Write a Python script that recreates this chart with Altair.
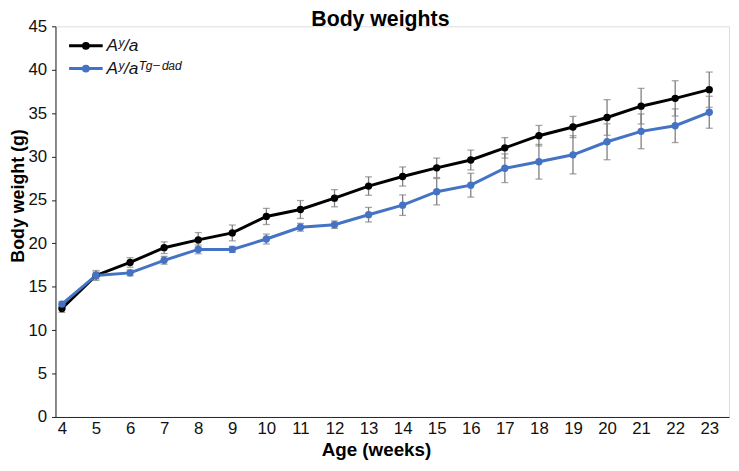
import altair as alt
import pandas as pd

weeks = list(range(4, 24))
series_names = ["Aʸ/a", "Aʸ/aᵀᵍ⁻ᵈᵃᵈ"]
series_colors = ["#000000", "#4472C4"]

ay_a_mean = [12.5, 16.3, 17.8, 19.5, 20.4, 21.2, 23.1, 23.9, 25.2, 26.6,
             27.7, 28.7, 29.6, 31.0, 32.4, 33.4, 34.5, 35.8, 36.7, 37.7]
ay_a_sem = [0.45, 0.57, 0.55, 0.67, 0.84, 0.91, 0.93, 1.03, 0.99, 1.06,
            1.10, 1.12, 1.14, 1.18, 1.18, 1.22, 2.05, 2.05, 2.03, 2.03]
tg_mean = [13.0, 16.3, 16.6, 18.05, 19.3, 19.3, 20.5, 21.85, 22.15, 23.3,
           24.4, 25.95, 26.7, 28.65, 29.4, 30.2, 31.7, 32.9, 33.55, 35.1]
tg_sem = [0.30, 0.40, 0.35, 0.45, 0.50, 0.35, 0.57, 0.45, 0.43, 0.84,
          1.18, 1.52, 1.37, 1.65, 2.00, 2.20, 2.07, 2.00, 1.94, 1.84]

y_ticks = [0, 5, 10, 15, 20, 25, 30, 35, 40, 45]

rows = []
for name, means, sems in [(series_names[0], ay_a_mean, ay_a_sem),
                          (series_names[1], tg_mean, tg_sem)]:
    for w, m, s in zip(weeks, means, sems):
        rows.append({"week": w, "weight": m, "lo": m - s, "hi": m + s, "series": name})
df = pd.DataFrame(rows)

FONT = "Liberation Sans, Arial, DejaVu Sans, sans-serif"

x_scale = alt.Scale(domain=[3.81, 23.58], nice=False, zero=False)
x_axis = alt.Axis(
    values=weeks, ticks=False, grid=False, title="Age (weeks)",
    labelPadding=4, labelFontSize=17, labelFont=FONT, labelColor="#111",
    labelOverlap=False, format="d",
    titleFontSize=19, titleFont=FONT, titleFontWeight="bold",
    titleX=324, titleY=39, titleAlign="center", titleAnchor="start",
    titleBaseline="alphabetic",
    domainColor="#222", domainWidth=1, labelFlush=False,
)
y_scale = alt.Scale(domain=[0, 45], nice=False)
y_axis = alt.Axis(
    values=y_ticks, grid=False, title="Body weight (g)",
    tickSize=4, tickColor="#222", labelPadding=5,
    labelFontSize=17, labelFont=FONT, labelColor="#111",
    labelOverlap=False,
    titleFontSize=18, titleFont=FONT, titleFontWeight="bold",
    titleAngle=-90, titleX=-32, titleY=171, titleAlign="center",
    titleBaseline="alphabetic", titleAnchor="start",
    domainColor="#222", domainWidth=1, labelFlush=False,
)


def X(field):
    return alt.X(field, scale=x_scale, axis=x_axis)


def Y(field):
    return alt.Y(field, scale=y_scale, axis=y_axis)


legend_path = ("M-3.4,0L3.4,0"
               "M-0.5,0A0.5,0.5 0 1,0 0.5,0A0.5,0.5 0 1,0 -0.5,0"
               "M-0.2,0A0.2,0.2 0 1,0 0.2,0A0.2,0.2 0 1,0 -0.2,0")
legend = alt.Legend(
    title=None, orient="none", legendX=22, legendY=11, padding=0,
    symbolType=legend_path, symbolSize=100, symbolStrokeWidth=3,
    labelOffset=12, labelFontSize=17.5, labelFont=FONT, labelFontStyle="italic",
    labelColor="#111", rowPadding=4,
)
color_enc = alt.Color(
    "series:N",
    scale=alt.Scale(domain=series_names, range=series_colors),
    legend=legend,
    sort=series_names,
)

base = alt.Chart(df)

lines = base.mark_line(strokeWidth=3).encode(x=X("week:Q"), y=Y("weight:Q"), color=color_enc)

bars = base.mark_rule(color="#7f7f7f", strokeWidth=1.3).encode(
    x=X("week:Q"), y=Y("lo:Q"), y2="hi:Q", detail="series:N"
)
caps_top = base.mark_tick(color="#7f7f7f", orient="horizontal", size=7, thickness=1.3).encode(
    x=X("week:Q"), y=Y("hi:Q"), detail="series:N"
)
caps_bot = base.mark_tick(color="#7f7f7f", orient="horizontal", size=7, thickness=1.3).encode(
    x=X("week:Q"), y=Y("lo:Q"), detail="series:N"
)

points = base.mark_circle(size=55, opacity=1).encode(
    x=X("week:Q"), y=Y("weight:Q"), color=color_enc
)

chart = (
    alt.layer(lines, bars, caps_top, caps_bot, points)
    .properties(
        width=681, height=395,
        title=alt.TitleParams("Body weights", fontSize=21.5, font=FONT, fontWeight="bold",
                              baseline="alphabetic", offset=0, dy=30, dx=-12,
                              anchor="middle", color="#000"),
        autosize=alt.AutoSizeParams(type="none"),
        padding={"left": 48, "top": 16, "right": 2, "bottom": 43},
    )
    .configure_view(stroke=None)
    .configure(background="white")
)

chart.save("out.html", embed_options={"renderer": "svg", "actions": False})
